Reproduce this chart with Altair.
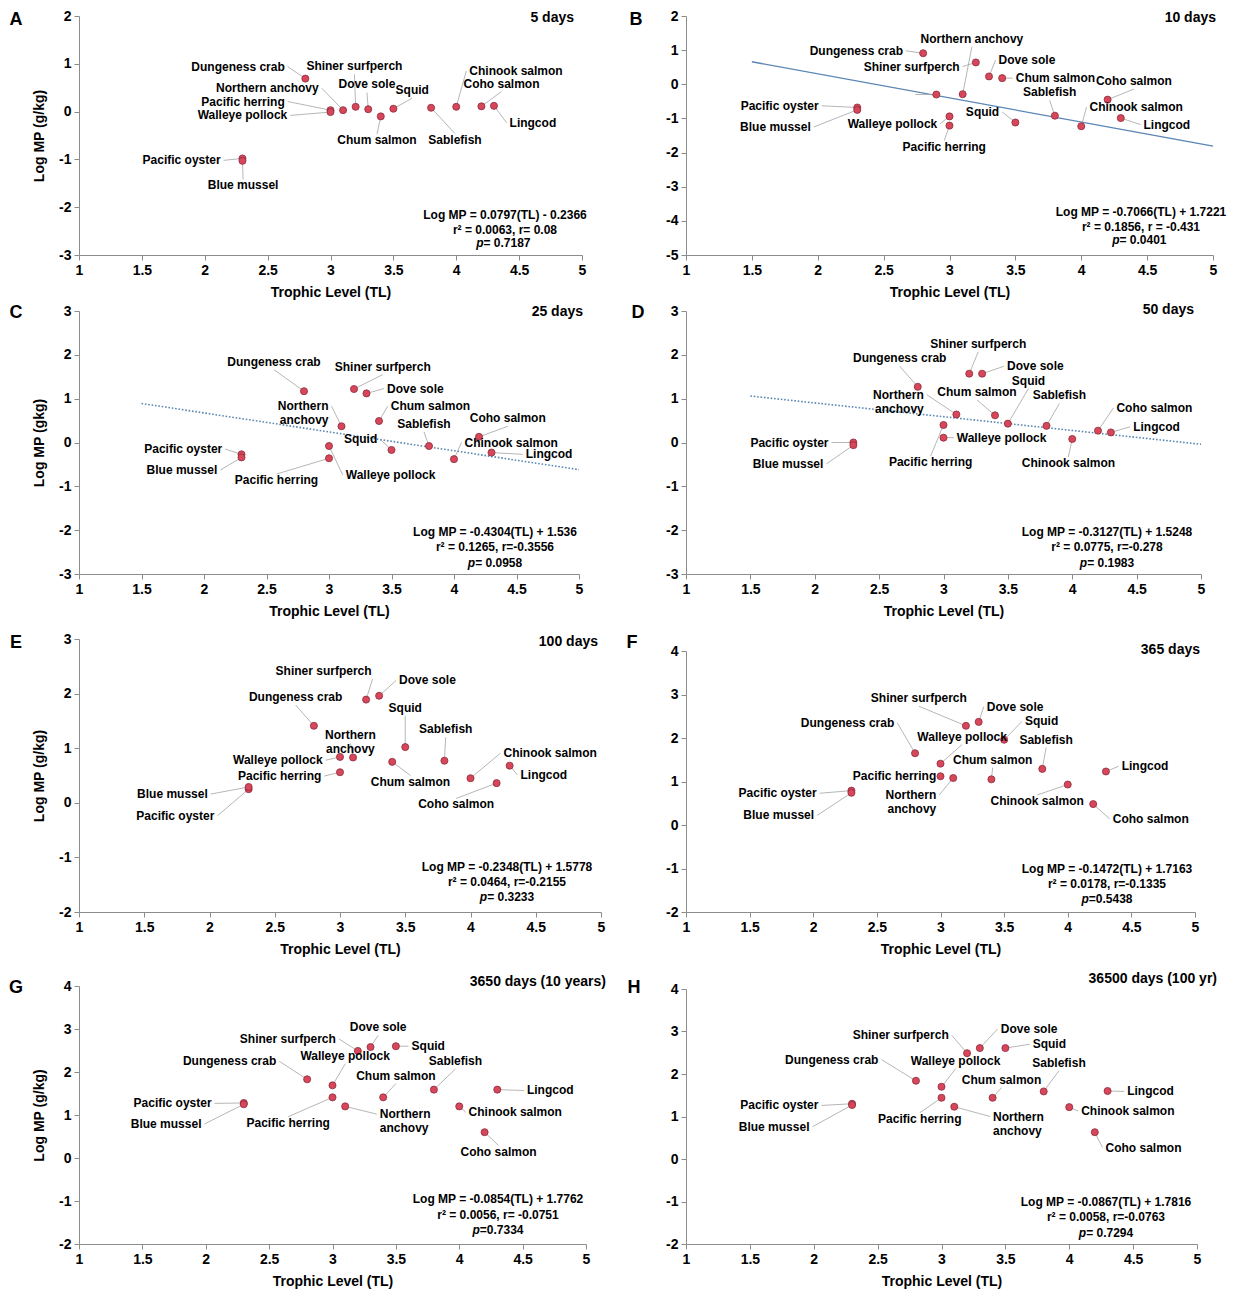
import altair as alt
import pandas as pd

FONT = "Liberation Sans"

SPECIES = ["Pacific oyster", "Blue mussel", "Dungeness crab", "Pacific herring",
           "Walleye pollock", "Northern anchovy", "Shiner surfperch", "Dove sole",
           "Chum salmon", "Squid", "Sablefish", "Chinook salmon", "Coho salmon", "Lingcod"]
TL = [2.3, 2.3, 2.8, 3.0, 3.0, 3.1, 3.2, 3.3, 3.4, 3.5, 3.8, 4.0, 4.2, 4.3]
XTICKS = [1, 1.5, 2, 2.5, 3, 3.5, 4, 4.5, 5]

# Log MP values per panel (species order as above)
MP_A = [-0.98, -1.03, 0.69, 0.03, -0.01, 0.03, 0.10, 0.05, -0.10, 0.06, 0.08, 0.10, 0.11, 0.12]
MP_B = [-0.68, -0.75, 0.91, -1.21, -0.94, -0.29, 0.64, 0.23, 0.18, -1.12, -0.92, -1.23, -0.45, -0.99]
MP_C = [-0.27, -0.34, 1.17, -0.36, -0.08, 0.37, 1.22, 1.12, 0.49, -0.17, -0.08, -0.38, 0.13, -0.23]
MP_D = [0.00, -0.06, 1.27, 0.40, 0.11, 0.64, 1.57, 1.57, 0.62, 0.43, 0.38, 0.08, 0.27, 0.23]
MP_E = [0.25, 0.29, 1.41, 0.56, 0.84, 0.83, 1.89, 1.96, 0.75, 1.02, 0.77, 0.45, 0.36, 0.68]
MP_F = [0.79, 0.74, 1.65, 1.12, 1.41, 1.08, 2.28, 2.37, 1.05, 1.96, 1.29, 0.93, 0.48, 1.23]
MP_G = [1.28, 1.25, 1.83, 1.41, 1.69, 1.20, 2.49, 2.58, 1.41, 2.60, 1.59, 1.20, 0.60, 1.59]
MP_H = [1.30, 1.27, 1.84, 1.44, 1.70, 1.23, 2.49, 2.61, 1.44, 2.61, 1.59, 1.22, 0.63, 1.60]

# extra unlabeled point in panel B
EXTRA_B = {"name": "", "x": 2.9, "y": -0.30, "lx": 2.74, "ly": -0.30, "pos": "lm"}

# label anchors (x, y in data units) and side of the text relative to the anchor
LBL_A = [(2.15, -1.02, "lm"), (2.305, -1.42, "cb"), (2.66, 0.94, "lm"), (2.66, 0.21, "lm"),
         (2.68, -0.08, "lm"), (2.93, 0.49, "lm"), (3.19, 0.78, "ct"), (3.29, 0.40, "ct"),
         (3.37, -0.47, "cb"), (3.65, 0.28, "ct"), (3.99, -0.46, "cb"), (4.08, 0.85, "rm"),
         (4.36, 0.42, "ct"), (4.40, -0.23, "rm")]
LBL_B = [(2.03, -0.63, "lm"), (1.97, -1.25, "lm"), (2.67, 0.98, "lm"), (2.96, -1.65, "cb"),
         (2.93, -1.15, "lm"), (3.17, 1.10, "ct"), (3.10, 0.52, "lm"), (3.35, 0.71, "rm"),
         (3.48, 0.18, "rm"), (3.40, -0.81, "lm"), (3.76, -0.47, "ct"), (4.04, -0.67, "rm"),
         (4.40, -0.14, "ct"), (4.45, -1.18, "rm")]
LBL_C = [(2.17, -0.15, "lm"), (2.13, -0.63, "lm"), (2.56, 1.66, "ct"), (2.58, -0.72, "cb"),
         (3.11, -0.74, "rm"), (3.02, 0.83, "lm"), (3.43, 1.55, "ct"), (3.44, 1.23, "rm"),
         (3.47, 0.83, "rm"), (3.41, 0.07, "lm"), (3.76, 0.24, "ct"), (4.06, 0.00, "rm"),
         (4.43, 0.37, "ct"), (4.55, -0.27, "rm")]
LBL_D = [(2.13, 0.00, "lm"), (2.09, -0.49, "lm"), (2.66, 1.74, "ct"), (2.90, -0.31, "cb"),
         (3.08, 0.11, "rm"), (2.87, 1.09, "lm"), (3.27, 2.07, "ct"), (3.47, 1.74, "rm"),
         (3.26, 0.97, "ct"), (3.66, 1.23, "ct"), (3.90, 0.89, "ct"), (3.97, -0.33, "cb"),
         (4.32, 0.79, "rm"), (4.45, 0.36, "rm")]
LBL_E = [(2.06, -0.24, "lm"), (2.01, 0.16, "lm"), (2.66, 1.79, "ct"), (2.88, 0.49, "lm"),
         (2.89, 0.78, "lm"), (3.08, 1.09, "ct"), (3.25, 2.27, "lt"), (3.43, 2.24, "rm"),
         (3.54, 0.50, "cb"), (3.50, 1.59, "ct"), (3.81, 1.20, "ct"), (4.23, 0.91, "rm"),
         (3.89, 0.08, "cb"), (4.36, 0.51, "rm")]
LBL_F = [(2.05, 0.73, "lm"), (2.03, 0.22, "lm"), (2.66, 2.35, "lm"), (2.99, 1.13, "lm"),
         (3.17, 1.85, "ct"), (2.99, 0.69, "lm"), (2.83, 2.73, "ct"), (3.34, 2.72, "rm"),
         (3.41, 1.32, "ct"), (3.64, 2.38, "rm"), (3.83, 1.78, "ct"), (3.76, 0.69, "cb"),
         (4.33, 0.14, "rm"), (4.40, 1.35, "rm")]
LBL_G = [(2.07, 1.27, "lm"), (1.99, 0.79, "lm"), (2.58, 2.25, "lm"), (2.65, 0.96, "cb"),
         (3.10, 2.19, "ct"), (3.35, 1.02, "rm"), (3.05, 2.77, "lm"), (3.36, 2.85, "ct"),
         (3.50, 1.73, "ct"), (3.60, 2.60, "rm"), (3.97, 2.07, "ct"), (4.05, 1.07, "rm"),
         (4.31, 0.29, "cb"), (4.51, 1.57, "rm")]
LBL_H = [(2.06, 1.26, "lm"), (1.99, 0.76, "lm"), (2.53, 2.34, "lm"), (2.83, 1.09, "cb"),
         (3.11, 2.12, "ct"), (3.38, 1.00, "rm"), (3.08, 2.91, "lm"), (3.44, 3.06, "rm"),
         (3.47, 1.68, "ct"), (3.69, 2.70, "rm"), (3.92, 2.08, "ct"), (4.07, 1.13, "rm"),
         (4.26, 0.27, "rm"), (4.43, 1.59, "rm")]

# regression lines (end points)
LINE_B = ([1.5, 5.0], [0.66, -1.81])
LINE_C = ([1.5, 5.0], [0.89, -0.62])
LINE_D = ([1.5, 5.0], [1.06, -0.04])

EQ_A = ["Log MP = 0.0797(TL) - 0.2366", "r\u00b2 = 0.0063, r= 0.08", "=  0.7187"]
EQ_B = ["Log MP = -0.7066(TL) + 1.7221", "r\u00b2 = 0.1856, r = -0.431", " = 0.0401"]
EQ_C = ["Log MP = -0.4304(TL) + 1.536", "r\u00b2 = 0.1265, r=-0.3556", "= 0.0958"]
EQ_D = ["Log MP = -0.3127(TL) + 1.5248", "r\u00b2 = 0.0775, r=-0.278", "= 0.1983"]
EQ_E = ["Log MP = -0.2348(TL) + 1.5778", "r\u00b2 = 0.0464, r=-0.2155", "= 0.3233"]
EQ_F = ["Log MP = -0.1472(TL) + 1.7163", "r\u00b2 = 0.0178, r=-0.1335", "=0.5438"]
EQ_G = ["Log MP = -0.0854(TL) + 1.7762", "r\u00b2 = 0.0056, r= -0.0751", "=0.7334"]
EQ_H = ["Log MP = -0.0867(TL) + 1.7816", "r\u00b2 = 0.0058, r=-0.0763", "= 0.7294"]

# w, h: cell size; off: distance from cell top to the top of the y range
PANELS = [
    dict(letter="A", title="5 days", mp=MP_A, lbl=LBL_A, eq=EQ_A, ydom=[-3, 2], w=503, h=247, off=8,
         ytitle="Log  MP (g/kg)", tpos=(-8, 2), lpos=(-63, 4), eqx=426, eqb=(40, 25, 12), wrap=False),
    dict(letter="B", title="10 days", mp=MP_B, lbl=LBL_B, eq=EQ_B, ydom=[-5, 2], w=527, h=247, off=8,
         ytitle=None, tpos=(3, 2), lpos=(-50, 4), eqx=455, eqb=(43, 28, 15), wrap=False,
         line=LINE_B, dash=False, extra=EXTRA_B),
    dict(letter="C", title="25 days", mp=MP_C, lbl=LBL_C, eq=EQ_C, ydom=[-3, 3], w=500, h=263, off=0,
         ytitle="Log  MP (gkg)", tpos=(4, 1), lpos=(-63, 2), eqx=416, eqb=(42, 27, 11), wrap=True,
         line=LINE_C, dash=True),
    dict(letter="D", title="50 days", mp=MP_D, lbl=LBL_D, eq=EQ_D, ydom=[-3, 3], w=515, h=263, off=0,
         ytitle=None, tpos=(-7, -1), lpos=(-48, 2), eqx=421, eqb=(42, 27, 11), wrap=True,
         line=LINE_D, dash=True),
    dict(letter="E", title="100 days", mp=MP_E, lbl=LBL_E, eq=EQ_E, ydom=[-2, 3], w=522, h=282, off=9,
         ytitle="Log  MP (g/kg)", tpos=(-3, 3), lpos=(-63, 4), eqx=428, eqb=(45, 30, 15), wrap=True),
    dict(letter="F", title="365 days", mp=MP_F, lbl=LBL_F, eq=EQ_F, ydom=[-2, 4], w=509, h=282, off=21,
         ytitle=None, tpos=(5, -1), lpos=(-54, -8), eqx=421, eqb=(43, 28, 13), wrap=True),
    dict(letter="G", title="3650 days  (10 years)", mp=MP_G, lbl=LBL_G, eq=EQ_G, ydom=[-2, 4], w=507, h=276,
         off=18, ytitle="Log  MP (g/kg)", tpos=(20, -4), lpos=(-63, 2), eqx=419, eqb=(45, 29, 14), wrap=True),
    dict(letter="H", title="36500 days  (100 yr)", mp=MP_H, lbl=LBL_H, eq=EQ_H, ydom=[-2, 4], w=511, h=276,
         off=21, ytitle=None, tpos=(20, -10), lpos=(-52, -1), eqx=420, eqb=(42, 27, 11), wrap=True),
]

POS = {
    "lm": ("right", "middle", -3, 0),
    "rm": ("left", "middle", 3, 0),
    "ct": ("center", "bottom", 0, -1),
    "cb": ("center", "top", 0, 1),
    "lt": ("right", "bottom", -1, -1),
    "rt": ("left", "bottom", 1, -1),
    "lb": ("right", "top", -1, 1),
    "rb": ("left", "top", 1, 1),
}

CW = {".": .278, " ": .278, "=": .584, "-": .333, "p": .611}


def text_w(s, fs):
    return sum(CW.get(c, .556) for c in s) * fs


EQ_FS = 12
LBL_FS = 12


def make_panel(P):
    names = [("Northern\nanchovy" if (P["wrap"] and s == "Northern anchovy") else s) for s in SPECIES]
    rows = {"name": names, "x": TL, "y": P["mp"],
            "lx": [l[0] for l in P["lbl"]], "ly": [l[1] for l in P["lbl"]], "pos": [l[2] for l in P["lbl"]]}
    df = pd.DataFrame(rows)
    if "extra" in P:
        df = pd.concat([df, pd.DataFrame([P["extra"]])], ignore_index=True)
    W, H, off = P["w"], P["h"], P["off"]
    lo, hi = P["ydom"]
    xs = alt.Scale(domain=[1, 5], nice=False, zero=False)
    ys = alt.Scale(domain=[lo, hi], nice=False, zero=False, range=[H, off])
    xax = alt.Axis(values=XTICKS, labelExpr="datum.value + ''", title="Trophic Level (TL)",
                   titlePadding=8, labelFlush=False, labelPadding=3)
    yvals = list(range(lo, hi + 1))
    if P["ytitle"]:
        yax = alt.Axis(values=yvals, labelExpr="datum.value + ''", title=P["ytitle"], titlePadding=12,
                       labelFlush=False, labelPadding=3)
    else:
        yax = alt.Axis(values=yvals, labelExpr="datum.value + ''", title=None, labelFlush=False, labelPadding=3)

    def X(f):
        return alt.X(f"{f}:Q", scale=xs, axis=xax)

    def Y(f):
        return alt.Y(f"{f}:Q", scale=ys, axis=yax)

    base = alt.Chart(df)
    layers = []
    if "line" in P:
        ldf = pd.DataFrame({"x": P["line"][0], "y": P["line"][1]})
        if P["dash"]:
            lm = alt.Chart(ldf).mark_line(color="#5b87b0", strokeWidth=1.6, strokeDash=[1.6, 1.8])
        else:
            lm = alt.Chart(ldf).mark_line(color="#5a85b4", strokeWidth=1.3)
        layers.append(lm.encode(x=X("x"), y=Y("y")))
    layers.append(base.mark_rule(color="#a3a3a3", strokeWidth=0.8).encode(
        x=X("x"), y=Y("y"), x2="lx:Q", y2="ly:Q"))
    layers.append(base.mark_circle(size=50, color="#d8465a", stroke="#8a2c3c", strokeWidth=0.8,
                                   opacity=1).encode(x=X("x"), y=Y("y")))
    for code in sorted(set(df["pos"])):
        al, bl, dx, dy = POS[code]
        layers.append(base.transform_filter(f"datum.pos == '{code}' && datum.name != ''").mark_text(
            align=al, baseline=bl, dx=dx, dy=dy, font=FONT, fontSize=LBL_FS, fontWeight="bold",
            lineBreak="\n", color="black").encode(x=X("lx"), y=Y("ly"), text="name:N"))
    # panel title
    tx, ty = P["tpos"]
    layers.append(alt.Chart(pd.DataFrame({"t": [P["title"]]})).mark_text(
        align="right", baseline="middle", font=FONT, fontSize=14, fontWeight="bold", color="black").encode(
        x=alt.value(W + tx), y=alt.value(off + ty), text="t:N"))
    # panel letter
    lx, ly = P["lpos"]
    layers.append(alt.Chart(pd.DataFrame({"t": [P["letter"]]})).mark_text(
        align="center", baseline="middle", font=FONT, fontSize=18, fontWeight="bold", color="black").encode(
        x=alt.value(lx), y=alt.value(off + ly), text="t:N"))
    # equation block
    cx = P["eqx"]
    b1, b2, b3 = P["eqb"]
    for txt, b in ((P["eq"][0], b1), (P["eq"][1], b2)):
        layers.append(alt.Chart(pd.DataFrame({"t": [txt]})).mark_text(
            align="center", baseline="middle", font=FONT, fontSize=EQ_FS, fontWeight="bold", color="black").encode(
            x=alt.value(cx), y=alt.value(H - b), text="t:N"))
    rest = P["eq"][2]
    wtot = text_w("p" + rest, EQ_FS)
    split = cx - wtot / 2 + text_w("p", EQ_FS)
    layers.append(alt.Chart(pd.DataFrame({"t": ["p"]})).mark_text(
        align="right", baseline="middle", font=FONT, fontSize=EQ_FS, fontWeight="bold", fontStyle="italic",
        color="black").encode(x=alt.value(split), y=alt.value(H - b3), text="t:N"))
    layers.append(alt.Chart(pd.DataFrame({"t": [rest]})).mark_text(
        align="left", baseline="middle", font=FONT, fontSize=EQ_FS, fontWeight="bold", color="black").encode(
        x=alt.value(split), y=alt.value(H - b3), text="t:N"))
    return alt.layer(*layers).properties(width=W, height=H)


charts = [make_panel(P) for P in PANELS]

chart = alt.concat(*charts, columns=2, spacing={"row": 56, "column": 85}, bounds="flush", align="each").properties(
    padding={"left": 0, "top": 0, "right": 4, "bottom": 2}, background="white"
).configure_view(stroke=None).configure_axis(
    domainColor="#8c8c8c", tickColor="#8c8c8c", tickSize=5, domainWidth=1, grid=False,
    labelFont=FONT, labelFontSize=14, labelFontWeight="bold", labelColor="black",
    titleFont=FONT, titleFontSize=14, titleFontWeight="bold", titleColor="black"
)

chart.save("out.html", embed_options={"renderer": "svg", "actions": False})
